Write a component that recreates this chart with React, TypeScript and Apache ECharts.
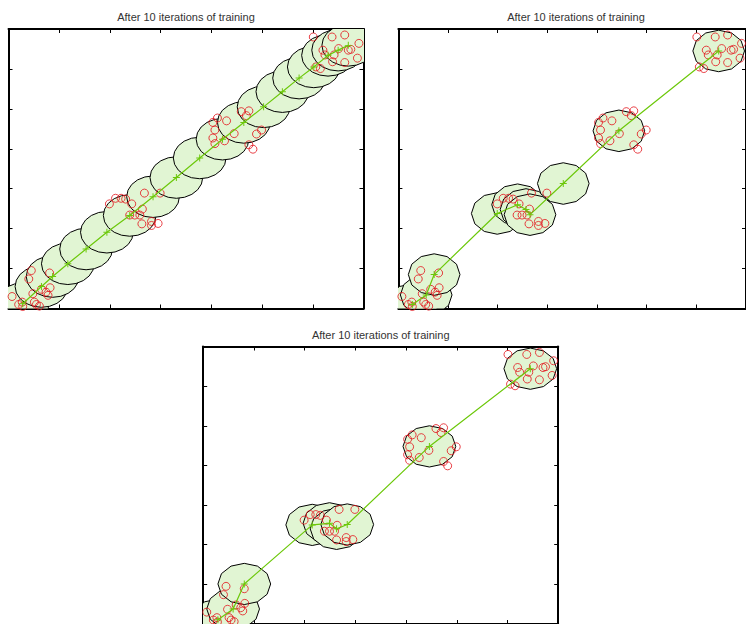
import React, { useEffect, useRef } from 'react';
import * as echarts from 'echarts';

const TITLE = 'After 10 iterations of training';

// Training data (same in all three panels)
const dataX = [
  0.45, 0.40, 0.81, 0.65, 0.82, 0.74, 0.78, 0.48, 0.07, 0.20, 0.27, 0.51, 0.55, 0.61, 0.28,
  1.99, 2.11, 2.22, 2.31, 2.43, 2.68, 2.99, 2.64, 2.39, 2.49, 2.59, 2.63, 2.82, 2.95, 2.82,
  4.03, 4.12, 4.30, 4.07, 4.03, 4.07, 4.26, 4.45, 4.59, 4.74, 4.69, 4.89, 4.99, 4.74, 4.82,
  6.01, 6.38, 6.63, 6.91, 6.20, 6.51, 6.70, 6.75, 6.24, 6.42, 6.39, 6.63, 6.88, 6.06, 6.15,
];
const dataY = [
  0.95, 0.74, 0.89, 0.48, 0.52, 0.41, 0.33, 0.37, 0.30, 0.10, 0.16, 0.16, 0.10, 0.06, 0.05,
  2.62, 2.76, 2.76, 2.74, 2.62, 2.89, 2.89, 2.49, 2.34, 2.34, 2.34, 2.12, 2.18, 2.13, 2.08,
  4.66, 4.77, 4.70, 4.47, 4.27, 4.13, 4.20, 4.38, 4.93, 4.95, 4.83, 4.37, 4.47, 4.10, 3.99,
  6.80, 6.80, 6.85, 6.64, 6.47, 6.51, 6.47, 6.49, 6.35, 6.35, 6.18, 6.16, 6.27, 6.05, 6.01,
];

// Node positions (map centres) for each panel
const nodes1X = [0.28, 0.65, 0.87, 1.17, 1.53, 1.94, 2.39, 2.85, 3.31, 3.77, 4.22, 4.64, 5.03, 5.40, 5.73, 6.02, 6.30, 6.50, 6.70];
const nodes1Y = [0.12, 0.55, 0.80, 1.12, 1.49, 1.91, 2.33, 2.80, 3.28, 3.77, 4.24, 4.66, 5.05, 5.43, 5.77, 6.05, 6.34, 6.47, 6.59];
const nodes2X = [0.28, 0.56, 0.72, 1.99, 2.40, 2.57, 2.65, 3.32, 4.44, 6.45];
const nodes2Y = [0.10, 0.34, 0.85, 2.38, 2.60, 2.48, 2.35, 3.13, 4.45, 6.45];
const nodes3X = [0.29, 0.59, 0.81, 2.15, 2.49, 2.63, 2.84, 4.46, 6.45];
const nodes3Y = [0.11, 0.38, 1.01, 2.50, 2.54, 2.40, 2.51, 4.48, 6.44];

const NODE_RADIUS = 0.52;

const GREEN = '#6cc80a';
const FILL = '#e1f5d3';
const RED = '#e3141c';

const panels = [
  { grid: { left: 8.5, top: 29, width: 355, height: 279.5 }, nx: nodes1X, ny: nodes1Y, title: [186, 17], sides: 20 },
  { grid: { left: 398.4, top: 29, width: 355, height: 279.5 }, nx: nodes2X, ny: nodes2Y, title: [576, 17], sides: 12 },
  { grid: { left: 203.2, top: 346.5, width: 355, height: 279.5 }, nx: nodes3X, ny: nodes3Y, title: [380.7, 335], sides: 12 },
];

const axisCommon = () => ({
  type: 'value',
  min: 0,
  max: 7,
  interval: 1,
  axisLine: { show: true, onZero: false, lineStyle: { color: '#000', width: 2 } },
  axisTick: { show: true, inside: true, length: 4, lineStyle: { color: '#000', width: 1 } },
  axisLabel: { show: false },
  splitLine: { show: false },
});

const PLUS = 'path://M4.3,0H5.7V4.3H10V5.7H5.7V10H4.3V5.7H0V4.3H4.3Z';

export default function App() {
  const ref = useRef<HTMLDivElement>(null);
  useEffect(() => {
    if (!ref.current) return;
    const chart = echarts.init(ref.current, undefined, { renderer: 'svg' });
    const points = dataX.map((x, i) => [x, dataY[i]]);
    const xAxis: any[] = [];
    const yAxis: any[] = [];
    const series: any[] = [];
    panels.forEach((p, i) => {
      xAxis.push({ ...axisCommon(), gridIndex: i, position: 'bottom' });
      xAxis.push({ ...axisCommon(), gridIndex: i, position: 'top' });
      yAxis.push({ ...axisCommon(), gridIndex: i, position: 'left' });
      yAxis.push({ ...axisCommon(), gridIndex: i, position: 'right' });
      const nodes = p.nx.map((x, k) => [x, p.ny[k]]);
      const sides = p.sides;
      series.push({
        type: 'custom',
        xAxisIndex: 2 * i,
        yAxisIndex: 2 * i,
        clip: true,
        silent: true,
        data: nodes,
        renderItem: (params: any, api: any) => {
          const cx = api.value(0);
          const cy = api.value(1);
          const pts: number[][] = [];
          for (let k = 0; k < sides; k++) {
            const a = (2 * Math.PI * k) / sides;
            pts.push(api.coord([cx + NODE_RADIUS * Math.cos(a), cy + NODE_RADIUS * Math.sin(a)]));
          }
          return {
            type: 'polygon',
            shape: { points: pts },
            style: { fill: FILL, stroke: '#000', lineWidth: 1 },
          };
        },
      });
      series.push({
        type: 'line',
        xAxisIndex: 2 * i,
        yAxisIndex: 2 * i,
        data: nodes,
        symbol: PLUS,
        symbolSize: 7,
        showSymbol: true,
        lineStyle: { color: GREEN, width: 1.2 },
        itemStyle: { color: GREEN },
        silent: true,
      });
      series.push({
        type: 'scatter',
        xAxisIndex: 2 * i,
        yAxisIndex: 2 * i,
        data: points,
        symbol: 'circle',
        symbolSize: 8,
        itemStyle: { color: 'rgba(0,0,0,0)', borderColor: RED, borderWidth: 1 },
        silent: true,
      });
    });
    chart.setOption({
      animation: false,
      backgroundColor: '#fff',
      grid: panels.map((p) => ({ ...p.grid, containLabel: false, show: false })),
      xAxis,
      yAxis,
      series,
      graphic: panels.map((p) => ({
        type: 'text',
        x: p.title[0],
        y: p.title[1],
        style: {
          text: TITLE,
          fill: '#333',
          font: '11px "Liberation Sans", Arial, sans-serif',
          textAlign: 'center',
          textVerticalAlign: 'middle',
          align: 'center',
          verticalAlign: 'middle',
        },
      })),
    });
    return () => chart.dispose();
  }, []);
  return (
    <div
      ref={ref}
      style={{ position: 'fixed', left: 0, top: 0, width: 746, height: 624, background: '#fff' }}
    />
  );
}
